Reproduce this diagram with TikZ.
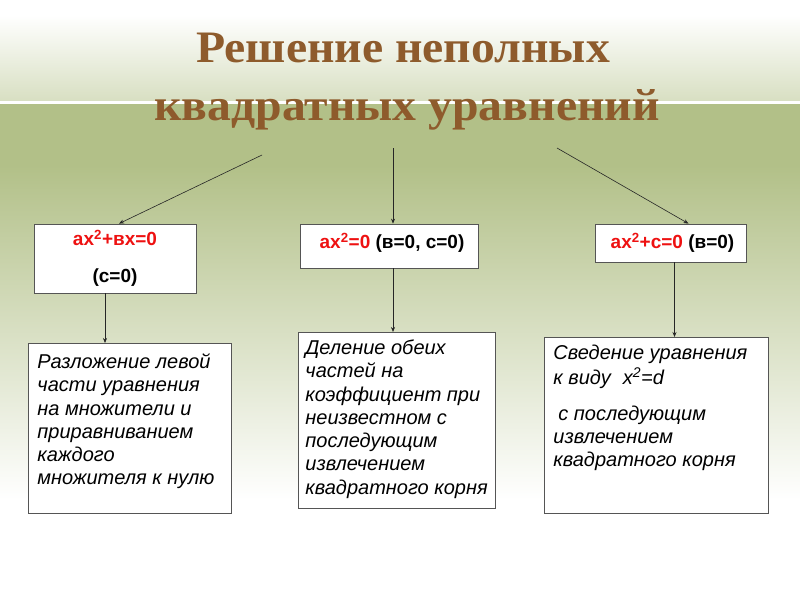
\documentclass[tikz,border=0pt]{standalone}
\usepackage{fontspec}
\setmainfont{Liberation Sans}
\newfontfamily\titlefont{Liberation Serif}
\usetikzlibrary{arrows.meta,shadows}
\definecolor{titlebrown}{HTML}{8E5B2C}
\definecolor{bggreen}{HTML}{B2C088}
\definecolor{bgtop}{HTML}{D8DFC2}
\definecolor{eqred}{HTML}{EE1111}
\definecolor{boxline}{HTML}{555555}
\begin{document}
\begin{tikzpicture}[x=1pt,y=-1pt,
  conn/.style={draw=black!85, line width=0.6pt, -{Stealth[length=5pt,width=4pt]}},
  boxshadow/.style={drop shadow={shadow xshift=0.8pt, shadow yshift=-1pt, fill=black!45, opacity=0.8}},
  topbox/.style={draw=boxline, fill=white, line width=0.8pt, inner sep=0pt, boxshadow,
    font=\bfseries\fontsize{19}{23}\selectfont, align=center},
  bigbox/.style={draw=boxline, fill=white, line width=0.8pt, inner sep=0pt, boxshadow,
    anchor=north west, font=\itshape\fontsize{20}{23.3}\selectfont},
  titlenode/.style={font=\titlefont\bfseries\fontsize{45}{55}\selectfont, text=titlebrown, anchor=base}
]
\useasboundingbox (0,0) rectangle (800,600);
% background
\fill[white] (0,0) rectangle (800,600);
\shade[top color=white, bottom color=bgtop] (0,15) rectangle (800,101);
\fill[bggreen] (0,103) rectangle (800,165);
\shade[top color=bggreen, bottom color=white] (0,165) rectangle (800,500);
\fill[white] (0,101) rectangle (800,103.5);

% title
\node[titlenode] (title1) at (403,62) {\scalebox{1.06}[1]{Решение неполных}};
\node[titlenode] (title2) at (407,120) {\scalebox{1.06}[1]{квадратных уравнений}};

% anchor points for arrow starts
\coordinate (sL) at (262,155);
\coordinate (sM) at (393,148);
\coordinate (sR) at (557,148);

% top boxes
\node[topbox, minimum width=162pt, minimum height=69pt] (b1) at (115,258.5)
  {\textcolor{eqred}{ax\textsuperscript{2}+вx=0}\\[14pt](c=0)};
\node[topbox, minimum width=178pt, minimum height=44pt] (b2) at (389,246)
  {\rule[-11pt]{0pt}{1pt}\hspace*{6pt}\textcolor{eqred}{ax\textsuperscript{2}=0} (в=0, с=0)};
\node[topbox, minimum width=151pt, minimum height=38pt] (b3) at (670.5,243)
  {\hspace*{4pt}\textcolor{eqred}{ax\textsuperscript{2}+c=0} (в=0)};

% bottom boxes
\node[bigbox] (b4) at (28,343) {\parbox[t][170pt][t]{203pt}{\leftskip=9pt\vspace*{8.7pt}\strut
Разложение левой\\части уравнения\\на множители и\\приравниванием\\каждого\\множителя к нулю}};
\node[bigbox] (b5) at (298,332) {\parbox[t][176pt][t]{197pt}{\leftskip=7pt\vspace*{5.7pt}\strut
Деление обеих\\частей на\\коэффициент при\\неизвестном с\\последующим\\извлечением\\квадратного корня}};
\node[bigbox] (b6) at (544,337) {\parbox[t][176pt][t]{224pt}{\leftskip=9pt\vspace*{5.7pt}\strut
Сведение уравнения\\к виду\hspace{12pt}x\textsuperscript{2}=d\\[12pt]\hspace*{5pt}с последующим\\извлечением\\квадратного корня}};

% connectors
\draw[conn] (sL) -- ([xshift=4pt]b1.north);
\draw[conn] (sM) -- (b2.north -| sM);
\draw[conn] (sR) -- ([xshift=18pt]b3.north);
\draw[conn] ([xshift=-10pt]b1.south) -- ([xshift=-10pt]b1.south |- b4.north);
\draw[conn] (b2.south -| sM) -- (b5.north -| sM);
\draw[conn] ([xshift=4pt]b3.south) -- ([xshift=4pt]b3.south |- b6.north);
\end{tikzpicture}
\end{document}
